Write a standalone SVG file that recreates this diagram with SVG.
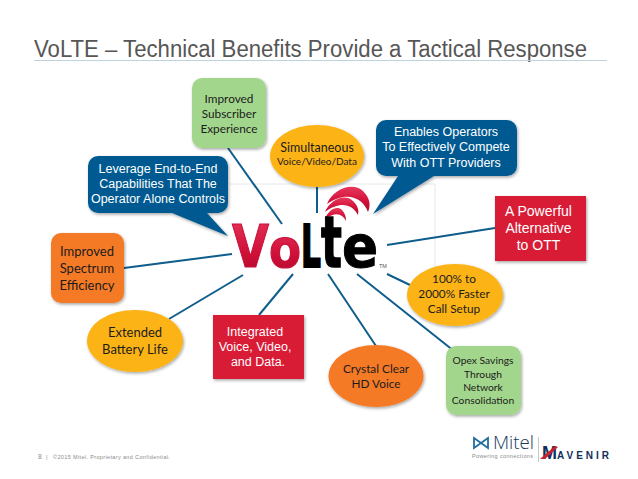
<svg xmlns="http://www.w3.org/2000/svg" width="638" height="479" viewBox="0 0 638 479">
<style>
.conn{stroke:#0f5d8c;stroke-width:2;fill:none}
.guide{stroke:#e4e8ea;stroke-width:1;fill:none}
.d{font-family:Lato,"Open Sans",sans-serif;font-size:11.800px;fill:#1c1c1c;text-anchor:middle}
.l{font-family:"Liberation Sans",Arial,sans-serif;font-size:12.5px;fill:#fff;text-anchor:middle}
.blue{fill:#025a91}.red{fill:#d91a36}.green{fill:#a3d68d}.orange{fill:#f57a25}.yellow{fill:#fcb316}
.lg{font-family:"DejaVu Sans",sans-serif;font-weight:700}
</style>
<defs>
<filter id="sh" x="-15%" y="-15%" width="130%" height="130%"><feDropShadow dx="1" dy="1.5" stdDeviation="1.5" flood-color="#000" flood-opacity="0.35"/></filter>
<linearGradient id="rg" x1="0" y1="0" x2="0" y2="1"><stop offset="0" stop-color="#e8385c"/><stop offset="0.6" stop-color="#cf0f38"/><stop offset="1" stop-color="#a80a2c"/></linearGradient>
</defs>
<rect width="638" height="479" fill="#fff"/>
<g id="title">
<text x="34" y="57" font-family="'Liberation Sans',Arial,sans-serif" font-size="23" fill="#565656" textLength="553" lengthAdjust="spacingAndGlyphs">VoLTE – Technical Benefits Provide a Tactical Response</text>
<path d="M34 60.5H607" stroke="#bdd3e0" stroke-width="1"/>
</g>
<g id="guides">
<path class="guide" d="M230 184H435V290"/>
</g>
<g id="connectors">
<path class="conn" d="M228 148L282 224"/>
<path class="conn" d="M317 187V213"/>
<path class="conn" d="M495 228L387 245"/>
<path class="conn" d="M124 268L232 254"/>
<path class="conn" d="M169 319L243 275"/>
<path class="conn" d="M259 315L293 274"/>
<path class="conn" d="M328 274L376 346"/>
<path class="conn" d="M357 274L454 351"/>
<path class="conn" d="M387 274L410 285"/>
</g>
<g id="node-subscriber">
<rect class="green" x="192" y="78" width="74" height="70" rx="10" filter="url(#sh)"/>
<text class="d" x="229" y="103">Improved</text><text class="d" x="229" y="118">Subscriber</text><text class="d" x="229" y="133">Experience</text>
</g>
<g id="node-leverage">
<path class="blue" filter="url(#sh)" d="M98 156H218a10 10 0 0 1 10 10V203a10 10 0 0 1-10 10H207L228 236L172 213H98a10 10 0 0 1-10-10V166a10 10 0 0 1 10-10Z"/>
<text class="l" x="158" y="173">Leverage End-to-End</text><text class="l" x="158" y="188">Capabilities That The</text><text class="l" x="158" y="203">Operator Alone Controls</text>
</g>
<g id="node-simultaneous">
<ellipse class="yellow" cx="317" cy="156" rx="47" ry="31" filter="url(#sh)"/>
<text class="d" x="317" y="152" style="font-size:12.500px">Simultaneous</text><text class="d" x="317" y="165" style="font-size:10px">Voice/Video/Data</text>
</g>
<g id="node-enables">
<path class="blue" filter="url(#sh)" d="M386 120H507a10 10 0 0 1 10 10V166a10 10 0 0 1-10 10H434L373 214L398 176H386a10 10 0 0 1-10-10V130a10 10 0 0 1 10-10Z"/>
<text class="l" x="446" y="136">Enables Operators</text><text class="l" x="446" y="151">To Effectively Compete</text><text class="l" x="446" y="167">With OTT Providers</text>
</g>
<g id="node-alternative">
<rect class="red" x="495" y="196" width="91" height="65" filter="url(#sh)"/>
<text class="l" x="538.500" y="216" style="font-size:14px">A Powerful</text><text class="l" x="538.500" y="233" style="font-size:14px">Alternative</text><text class="l" x="538.500" y="250" style="font-size:14px">to OTT</text>
</g>
<g id="node-spectrum">
<rect class="orange" x="51" y="233" width="73" height="70" rx="10" filter="url(#sh)"/>
<text class="d" x="87" y="256" style="font-size:13px">Improved</text><text class="d" x="87" y="273" style="font-size:13px">Spectrum</text><text class="d" x="87" y="290" style="font-size:13px">Efficiency</text>
</g>
<g id="node-battery">
<ellipse class="yellow" cx="135" cy="341" rx="48" ry="31" filter="url(#sh)"/>
<text class="d" x="135" y="337" style="font-size:13px">Extended</text><text class="d" x="135" y="354" style="font-size:13px">Battery Life</text>
</g>
<g id="node-integrated">
<rect class="red" x="213" y="315" width="91" height="64" filter="url(#sh)"/>
<text class="l" x="255" y="336">Integrated</text><text class="l" x="255" y="351">Voice, Video,</text><text class="l" x="258" y="366">and Data.</text>
</g>
<g id="node-hd">
<ellipse class="orange" cx="376" cy="376" rx="47.500" ry="31" filter="url(#sh)"/>
<text class="d" x="376" y="373">Crystal Clear</text><text class="d" x="376" y="388">HD Voice</text>
</g>
<g id="node-setup">
<ellipse class="yellow" cx="455" cy="295" rx="48" ry="31" filter="url(#sh)"/>
<text class="d" x="454" y="283">100% to</text><text class="d" x="454" y="298">2000% Faster</text><text class="d" x="454" y="313">Call Setup</text>
</g>
<g id="node-opex">
<rect class="green" x="446" y="346" width="75" height="69" rx="10" filter="url(#sh)"/>
<text class="d" x="483" y="364" style="font-size:10.300px">Opex Savings</text><text class="d" x="483" y="378" style="font-size:10.300px">Through</text><text class="d" x="483" y="391" style="font-size:10.300px">Network</text><text class="d" x="483" y="404" style="font-size:10.300px">Consolidation</text>
</g>
<g id="node-volte">
<path fill="url(#rg)" d="M327 204C332 190 352 181 363 191C370 198 371 205 368 212C363 198 347 190 327 204Z"/>
<path fill="url(#rg)" d="M325 212C330 200 345 193 353 201C358 206 359 210 358 215C352 204 340 201 325 212Z"/>
<path fill="url(#rg)" d="M325 219C328 210 337 205 342 210C345 213 346 217 346 221C342 213 335 212 325 219Z"/>
<text class="lg" transform="translate(232 267) scale(.81 1)" font-size="59" fill="url(#rg)" stroke="#c9103a" stroke-width="1.200">V</text>
<text class="lg" transform="translate(269 267) scale(.88 1)" font-size="53" fill="url(#rg)" stroke="#c9103a" stroke-width="1.200">o</text>
<text class="lg" transform="translate(301 267) scale(.53 1)" font-size="59" fill="#000" stroke="#000" stroke-width="2">L</text>
<text class="lg" transform="translate(321 267) scale(.61 1)" font-size="72" fill="#000" stroke="#000" stroke-width="1.500">t</text>
<text class="lg" transform="translate(342 267) scale(.92 1)" font-size="58" fill="#000" stroke="#000" stroke-width="1">e</text>
<text x="379" y="268" font-family="'Liberation Sans',Arial,sans-serif" font-size="5.500" fill="#555">TM</text>
</g>
<g id="footer">
<text x="38" y="459" font-family="'Liberation Sans',Arial,sans-serif" font-size="6.500" fill="#8a8a8a">8</text>
<text x="46" y="459" font-family="'Liberation Sans',Arial,sans-serif" font-size="5.500" fill="#8a8a8a">|</text>
<text x="53" y="459" font-family="'Liberation Sans',Arial,sans-serif" font-size="5.500" fill="#8a8a8a" textLength="117" lengthAdjust="spacing">©2015 Mitel. Proprietary and Confidential.</text>
</g>
<g id="logo-mitel">
<path d="M474 438L481 443L474 448ZM488 438L481 443L488 448Z" fill="none" stroke="#1f6f9f" stroke-width="1.800"/>
<text x="493" y="449" font-family="'Open Sans','Liberation Sans',sans-serif" font-weight="300" font-size="18" fill="#16395c" textLength="41" lengthAdjust="spacingAndGlyphs">Mitel</text>
<text x="472" y="458" font-family="'Liberation Sans',Arial,sans-serif" font-size="5.500" fill="#888" textLength="61" lengthAdjust="spacing">Powering connections</text>
<path d="M538.500 437V462" stroke="#c8c8c8" stroke-width="1"/>
</g>
<g id="logo-mavenir">
<text x="542" y="459" font-family="'Liberation Sans',Arial,sans-serif" font-weight="700" fill="#12305a"><tspan font-size="18" textLength="15" lengthAdjust="spacingAndGlyphs">M</tspan><tspan x="557" font-size="10" textLength="52" lengthAdjust="spacing">AVENIR</tspan></text>
<path d="M540 459L555 446L558 447L545 459Z" fill="#c8202f"/>
</g>
</svg>
